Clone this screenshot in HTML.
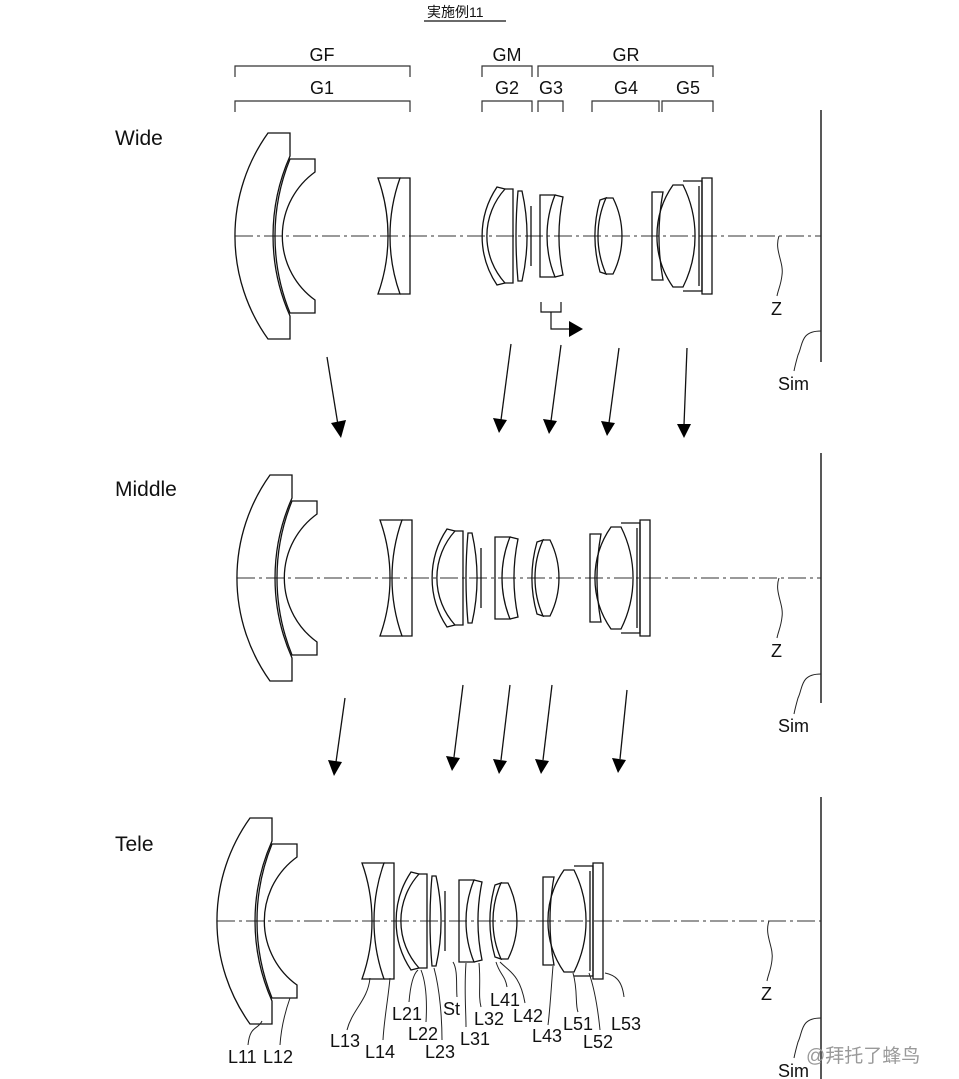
<!DOCTYPE html>
<html><head><meta charset="utf-8">
<style>
html,body{margin:0;padding:0;background:#fff;}
svg{display:block;}
text{font-family:"Liberation Sans","Noto Sans CJK JP",sans-serif;fill:#111;}
</style></head><body>
<svg width="959" height="1079" viewBox="0 0 959 1079" xmlns="http://www.w3.org/2000/svg">
<defs>
<g id="g1a" fill="none" stroke="#111" stroke-width="1.3">
<path d="M33,-103 L55,-103 L55,-80 A197 197 0 0 0 55,80 L55,103 L33,103 A177 177 0 0 1 33,-103 Z"/>
<path d="M55,-77 L80,-77 L80,-64 A79 79 0 0 0 80,64 L80,77 L55,77 A205 205 0 0 1 55,-77 Z"/>
</g>
<g id="g1b" fill="none" stroke="#111" stroke-width="1.3">
<path d="M0,-58 L22,-58 A173 173 0 0 0 22,58 L0,58 A173 173 0 0 0 0,-58 Z"/>
<path d="M22,-58 L32,-58 L32,58 L22,58"/>
</g>
<g id="g2" fill="none" stroke="#111" stroke-width="1.3">
<path d="M15,-49 L23,-47 A70 70 0 0 0 23,47 L15,49 A88 88 0 0 1 15,-49 Z"/>
<path d="M23,-47 L31,-47 L31,47 L23,47"/>
<path d="M36,-45 L40,-45 A205 205 0 0 1 40,45 L36,45 A507 507 0 0 1 36,-45 Z"/>
<line x1="49" y1="-30" x2="49" y2="30"/>
</g>
<g id="g3" fill="none" stroke="#111" stroke-width="1.3">
<path d="M0,-41 L15,-41 A109 109 0 0 0 15,41 L0,41 Z"/>
<path d="M15,-41 L23,-39 A192 192 0 0 0 23,39 L15,41"/>
</g>
<g id="g4" fill="none" stroke="#111" stroke-width="1.3">
<path d="M5,-36 L11,-38 A94 94 0 0 0 11,38 L5,36 A132 132 0 0 1 5,-36 Z"/>
<path d="M11,-38 L18,-38 A85 85 0 0 1 18,38 L11,38"/>
</g>
<g id="g5" fill="none" stroke="#111" stroke-width="1.3">
<path d="M2,-44 L13,-44 A244 244 0 0 0 13,44 L2,44 Z"/>
<path d="M23,-51 L33,-51 A114 114 0 0 1 33,51 L23,51 A89 89 0 0 1 23,-51 Z"/>
<path d="M33,-55 L52,-55 L52,55 L33,55"/>
<path d="M52,-58 L62,-58 L62,58 L52,58 Z"/>
<line x1="49" y1="-50" x2="49" y2="50"/>
</g>
</defs>

<text x="427" y="17" font-size="14">実施例11</text>
<line x1="424" y1="21" x2="506" y2="21" stroke="#111" stroke-width="1.2"/>

<g fill="none" stroke="#333" stroke-width="1.2">
<path d="M235,77 V66 H410 V77"/>
<path d="M235,112 V101 H410 V112"/>
<path d="M482,77 V66 H532 V77"/>
<path d="M538,77 V66 H713 V77"/>
<path d="M482,112 V101 H532 V112"/>
<path d="M538,112 V101 H563 V112"/>
<path d="M592,112 V101 H659 V112"/>
<path d="M662,112 V101 H713 V112"/>
</g>
<g font-size="18" text-anchor="middle">
<text x="322" y="61">GF</text>
<text x="322" y="94">G1</text>
<text x="507" y="61">GM</text>
<text x="626" y="61">GR</text>
<text x="507" y="94">G2</text>
<text x="551" y="94">G3</text>
<text x="626" y="94">G4</text>
<text x="688" y="94">G5</text>
</g>

<g font-size="21">
<text x="115" y="145">Wide</text>
<text x="115" y="496">Middle</text>
<text x="115" y="851">Tele</text>
</g>

<g stroke="#333" stroke-width="1" stroke-dasharray="18,4,3,4">
<line x1="235" y1="236" x2="821" y2="236"/>
<line x1="237" y1="578" x2="821" y2="578"/>
<line x1="217" y1="921" x2="821" y2="921"/>
</g>
<g stroke="#222" stroke-width="1.5" fill="none">
<line x1="821" y1="110" x2="821" y2="362"/>
<line x1="821" y1="453" x2="821" y2="703"/>
<line x1="821" y1="797" x2="821" y2="1079"/>
<g stroke-width="1">
<path d="M779,236 C774,250 784,262 782,275 C781,285 778,290 777,296"/>
<path d="M821,331 C800,331 803,345 798,355 C796,362 795,366 794,371"/>
<path d="M779,578 C774,592 784,604 782,617 C781,627 778,632 777,638"/>
<path d="M821,674 C800,674 803,688 798,698 C796,705 795,709 794,714"/>
<path d="M769,921 C764,935 774,947 772,960 C771,970 768,975 767,981"/>
<path d="M821,1018 C800,1018 803,1032 798,1042 C796,1049 795,1053 794,1058"/>
</g>
</g>
<g font-size="18">
<text x="771" y="315">Z</text><text x="778" y="390">Sim</text>
<text x="771" y="657">Z</text><text x="778" y="732">Sim</text>
<text x="761" y="1000">Z</text><text x="778" y="1077">Sim</text>
</g>

<use href="#g1a" transform="translate(235,236)"/>
<use href="#g1b" transform="translate(378,236)"/>
<use href="#g2" transform="translate(482,236)"/>
<use href="#g3" transform="translate(540,236)"/>
<use href="#g4" transform="translate(595,236)"/>
<use href="#g5" transform="translate(650,236)"/>
<g fill="none" stroke="#111" stroke-width="1.2">
<path d="M541,302 V312 H561 V302"/>
<path d="M551,312 V329 H570"/>
</g>
<polygon points="569,321 583,329 569,337" fill="#000"/>

<use href="#g1a" transform="translate(237,578)"/>
<use href="#g1b" transform="translate(380,578)"/>
<use href="#g2" transform="translate(432,578)"/>
<use href="#g3" transform="translate(495,578)"/>
<use href="#g4" transform="translate(532,578)"/>
<use href="#g5" transform="translate(588,578)"/>

<use href="#g1a" transform="translate(217,921)"/>
<use href="#g1b" transform="translate(362,921)"/>
<use href="#g2" transform="translate(396,921)"/>
<use href="#g3" transform="translate(459,921)"/>
<use href="#g4" transform="translate(490,921)"/>
<use href="#g5" transform="translate(541,921)"/>

<g stroke="#111" stroke-width="1.3">
<line x1="327" y1="357" x2="338" y2="425"/>
<line x1="511" y1="344" x2="501" y2="420"/>
<line x1="561" y1="345" x2="551" y2="421"/>
<line x1="619" y1="348" x2="609" y2="423"/>
<line x1="687" y1="348" x2="684" y2="425"/>
<line x1="345" y1="698" x2="336" y2="762"/>
<line x1="463" y1="685" x2="454" y2="757"/>
<line x1="510" y1="685" x2="501" y2="760"/>
<line x1="552" y1="685" x2="543" y2="760"/>
<line x1="627" y1="690" x2="620" y2="759"/>
</g>
<g fill="#000">
<polygon points="331,423 346,420 341,438"/>
<polygon points="493,418 507,420 499,433"/>
<polygon points="543,419 557,421 549,434"/>
<polygon points="601,421 615,423 607,436"/>
<polygon points="677,424 691,424 684,438"/>
<polygon points="328,760 342,762 334,776"/>
<polygon points="446,756 460,758 452,771"/>
<polygon points="493,759 507,761 499,774"/>
<polygon points="535,759 549,761 541,774"/>
<polygon points="612,758 626,760 618,773"/>
</g>

<g fill="none" stroke="#222" stroke-width="1">
<path d="M262,1021 C258,1030 250,1025 248,1045"/>
<path d="M290,998 C284,1015 281,1030 280,1045"/>
<path d="M370,978 C368,1000 352,1010 347,1030"/>
<path d="M390,978 C388,1000 384,1020 383,1040"/>
<path d="M418,970 C412,975 410,990 409,1002"/>
<path d="M421,970 C427,985 427,1005 426,1022"/>
<path d="M434,968 C440,990 442,1020 442,1040"/>
<path d="M453,962 C458,970 456,985 457,997"/>
<path d="M466,963 C464,990 466,1010 466,1027"/>
<path d="M479,963 C481,985 478,995 481,1007"/>
<path d="M496,962 C500,975 505,975 507,987"/>
<path d="M500,962 C510,972 520,975 525,1003"/>
<path d="M553,966 C551,990 550,1010 548,1025"/>
<path d="M573,973 C578,990 575,1005 578,1012"/>
<path d="M589,973 C595,990 598,1010 600,1030"/>
<path d="M605,973 C615,975 622,980 624,997"/>
</g>
<g font-size="18">
<text x="228" y="1063">L11</text>
<text x="263" y="1063">L12</text>
<text x="330" y="1047">L13</text>
<text x="365" y="1058">L14</text>
<text x="392" y="1020">L21</text>
<text x="408" y="1040">L22</text>
<text x="425" y="1058">L23</text>
<text x="443" y="1015">St</text>
<text x="460" y="1045">L31</text>
<text x="474" y="1025">L32</text>
<text x="490" y="1006">L41</text>
<text x="513" y="1022">L42</text>
<text x="532" y="1042">L43</text>
<text x="563" y="1030">L51</text>
<text x="583" y="1048">L52</text>
<text x="611" y="1030">L53</text>
</g>

<text x="806" y="1062" font-size="19" style="fill:#999">@拜托了蜂鸟</text>
</svg>
</body></html>
